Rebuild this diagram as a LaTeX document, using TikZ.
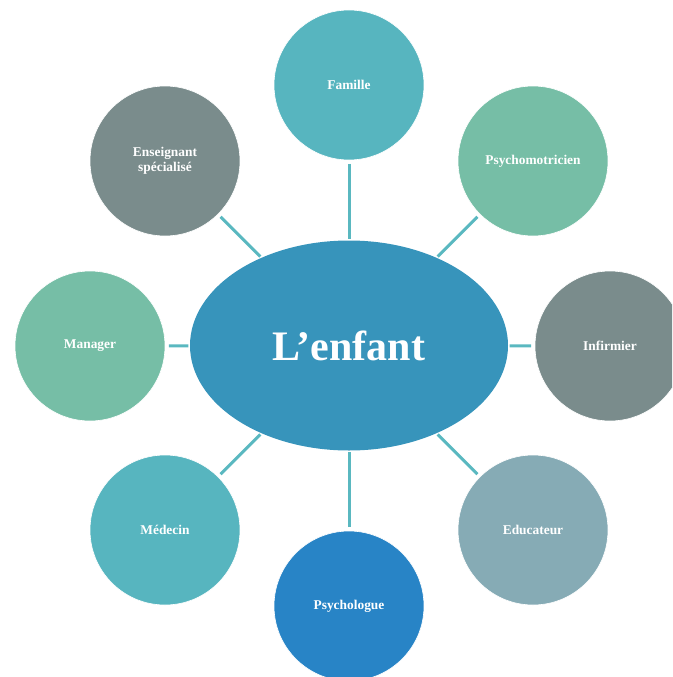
\documentclass[tikz,border=0pt]{standalone}
\usepackage{fontspec}
\setmainfont{Liberation Serif}
\usetikzlibrary{shapes.geometric}
\definecolor{cTeal}{RGB}{87,181,191}
\definecolor{cGreen}{RGB}{118,190,166}
\definecolor{cGrey}{RGB}{122,140,140}
\definecolor{cBlueGrey}{RGB}{134,171,181}
\definecolor{cBlue}{RGB}{40,132,198}
\definecolor{cCenter}{RGB}{55,148,187}
\definecolor{cLine}{RGB}{90,184,192}
\tikzset{
  bubble/.style={circle, minimum size=150pt, inner sep=0pt, draw=white, line width=0.6pt,
    text=white, font=\bfseries\fontsize{13.4}{14.5}\selectfont, align=center},
  hub/.style={ellipse, minimum width=318pt, minimum height=210pt, inner sep=0pt,
    fill=cCenter, text=white, font=\bfseries\fontsize{42}{46}\selectfont},
  link/.style={draw=cLine, line width=3pt, shorten <=3.5pt, shorten >=1.5pt}
}
\begin{document}
\begin{tikzpicture}[x=1pt,y=-1pt]
\useasboundingbox (0,0) rectangle (672,677);
\clip (0,0) rectangle (672,677);
\node[hub] (ell) at (349,345.5) {L’enfant};
\node[bubble, fill=cTeal] (famille) at (349,85) {Famille};
\node[bubble, fill=cGreen] (psymot) at (533,161) {Psychomotricien};
\node[bubble, fill=cGrey] (infirmier) at (610,346) {Infirmier};
\node[bubble, fill=cBlueGrey] (educateur) at (533,530) {Educateur};
\node[bubble, fill=cBlue] (psychologue) at (349,606) {Psychologue};
\node[bubble, fill=cTeal] (medecin) at (165,530) {Médecin};
\node[bubble, fill=cGreen] (manager) at (90,346) {Manager};
\node[bubble, fill=cGrey] (enseignant) at (165,161) {Enseignant\\spécialisé};
\foreach \n in {famille,psymot,infirmier,educateur,psychologue,medecin,manager,enseignant}
  \draw[link] (\n) -- (ell);
\end{tikzpicture}
\end{document}
